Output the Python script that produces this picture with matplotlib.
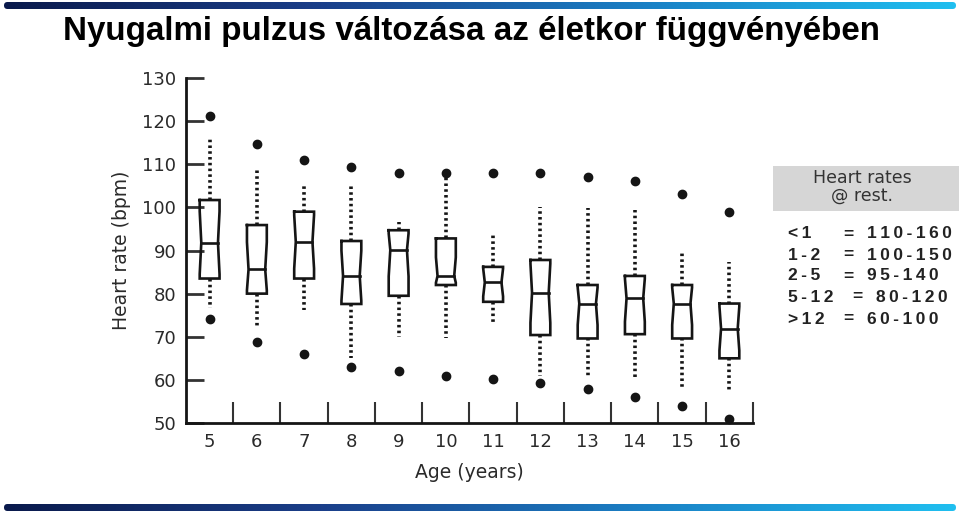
import numpy as np
import matplotlib
matplotlib.use("Agg")
import matplotlib.pyplot as plt
from matplotlib.colors import LinearSegmentedColormap
from matplotlib.patches import FancyBboxPatch, Rectangle

# box plot values (bpm)
ages = [5, 6, 7, 8, 9, 10, 11, 12, 13, 14, 15, 16]
q1 = [83.5, 80.0, 83.5, 77.6, 79.5, 82.0, 78.1, 70.4, 69.6, 70.6, 69.6, 65.0]
med = [91.8, 85.6, 92.0, 84.1, 90.1, 84.1, 82.6, 80.2, 77.7, 78.9, 77.7, 71.9]
q3 = [101.7, 95.9, 99.0, 92.2, 94.7, 92.8, 86.2, 87.8, 82.0, 84.1, 82.0, 77.7]
whis_lo = [76.6, 72.3, 76.2, 65.0, 70.0, 69.6, 73.1, 61.0, 60.7, 59.9, 57.6, 57.2]
whis_hi = [116.0, 109.0, 105.2, 105.2, 96.7, 107.0, 93.6, 100.1, 99.8, 99.4, 89.7, 87.4]
out_hi = [121.1, 114.8, 111.1, 109.3, 108.0, 108.0, 108.0, 108.0, 107.0, 106.1, 103.1, 99.0]
out_lo = [74.2, 68.8, 66.1, 63.0, 62.0, 60.9, 60.1, 59.2, 58.0, 56.0, 53.9, 51.0]
yticks = [50, 60, 70, 80, 90, 100, 110, 120, 130]

# side note
note_title = "Heart rates\n@ rest."
age_groups = ["<1", "1-2", "2-5", "5-12", ">12"]
rate_ranges = ["110-160", "100-150", "95-140", "80-120", "60-100"]

W, H = 960, 513
fig = plt.figure(figsize=(W / 100, H / 100), dpi=100)
fig.patch.set_facecolor("white")

ink = "#151515"
txt = "#2a2a2a"

ax = fig.add_axes([186 / W, 1 - 423 / H, 567 / W, 345 / H])
ax.set_xlim(4.5, 16.5)
ax.set_ylim(50, 130)

bw = 0.42
for x, a, m, b, lo, hi in zip(ages, q1, med, q3, whis_lo, whis_hi):
    iqr = b - a
    nh = 0.4 * iqr
    ci_lo = max(a + 0.05 * iqr, m - nh)
    ci_hi = min(b - 0.05 * iqr, m + nh)
    L, R = x - bw / 2, x + bw / 2
    ind = 0.08 * bw
    px = [L, L, L + ind, L, L, R, R, R - ind, R, R, L]
    py = [b, ci_hi, m, ci_lo, a, a, ci_lo, m, ci_hi, b, b]
    ax.plot(px, py, color=ink, lw=1.9, solid_joinstyle="miter")
    ax.plot([L + ind, R - ind], [m, m], color=ink, lw=1.9)
    ax.plot([x, x], [b, hi], color=ink, lw=2.6, ls=(0, (0.7, 0.9)))
    ax.plot([x, x], [a, lo], color=ink, lw=2.6, ls=(0, (0.7, 0.9)))

ax.plot(ages, out_hi, "o", ms=6, color=ink, clip_on=False)
ax.plot(ages, out_lo, "o", ms=6, color=ink, clip_on=False)

for s in ["top", "right"]:
    ax.spines[s].set_visible(False)
for s in ["left", "bottom"]:
    ax.spines[s].set_linewidth(2)
    ax.spines[s].set_color(ink)

ax.set_yticks(yticks)
ax.set_yticklabels([str(v) for v in yticks], fontsize=13, color=txt)
ax.tick_params(axis="y", direction="in", length=13, width=2, color="#333333", pad=7)

ax.set_xticks([a + 0.5 for a in ages])
ax.set_xticklabels([])
ax.tick_params(axis="x", which="major", direction="in", length=15, width=1.5, color="#333333")
ax.set_xticks(ages, minor=True)
ax.set_xticklabels([str(a) for a in ages], minor=True, fontsize=13, color=txt)
ax.tick_params(axis="x", which="minor", length=0, pad=7)

ax.set_xlabel("Age (years)", fontsize=13.5, color=txt, labelpad=9)
ax.set_ylabel("Heart rate (bpm)", fontsize=13.5, color=txt, labelpad=8)

# overlay in pixel coordinates for bars, title and note
ov = fig.add_axes([0, 0, 1, 1], zorder=5)
ov.axis("off")
ov.patch.set_alpha(0)

cmap = LinearSegmentedColormap.from_list("bar", ["#0a1a4c", "#1b3f8a", "#1a7fc4", "#20bff0"])
grad = np.linspace(0, 1, 512).reshape(1, -1)
for y0 in (2, 504):
    clip = FancyBboxPatch((4, y0), 952, 7, boxstyle="round,pad=0,rounding_size=3.5",
                          transform=ov.transData, facecolor="none", edgecolor="none")
    ov.add_patch(clip)
    im = ov.imshow(grad, cmap=cmap, extent=(4, 956, y0 + 7, y0), aspect="auto")
    im.set_clip_path(clip)
ov.set_xlim(0, W)
ov.set_ylim(H, 0)

title = ov.text(63, 40, "Nyugalmi pulzus változása az életkor függvényében",
                fontsize=24, fontweight="bold", color="black", va="baseline", ha="left",
                family=["Liberation Sans Narrow", "Liberation Sans", "DejaVu Sans"])
fig.canvas.draw()
tw = title.get_window_extent().width
title.set_fontsize(24 * 820 / tw)

ov.add_patch(Rectangle((773, 166), 186, 45, facecolor="#d6d6d6", edgecolor="none"))
ov.text(862, 187, note_title, ha="center", va="center", fontsize=12.5, color="#333333",
        family="DejaVu Sans", linespacing=1.0)

row_y = [234, 255, 276, 297, 319]
for i, (g, r) in enumerate(zip(age_groups, rate_ranges)):
    shift = 9 if len(g) > 3 else 0
    kw = dict(va="center", ha="left", fontsize=12.5, fontweight="bold", color="#222222",
              family=["Liberation Sans", "DejaVu Sans"])
    ov.text(788, row_y[i], "\u2009".join(g), **kw)
    ov.text(843 + shift, row_y[i], "=", **kw)
    ov.text(867 + shift, row_y[i], "\u2009".join(r), **kw)

fig.savefig("out.png", dpi=100, facecolor="white")
